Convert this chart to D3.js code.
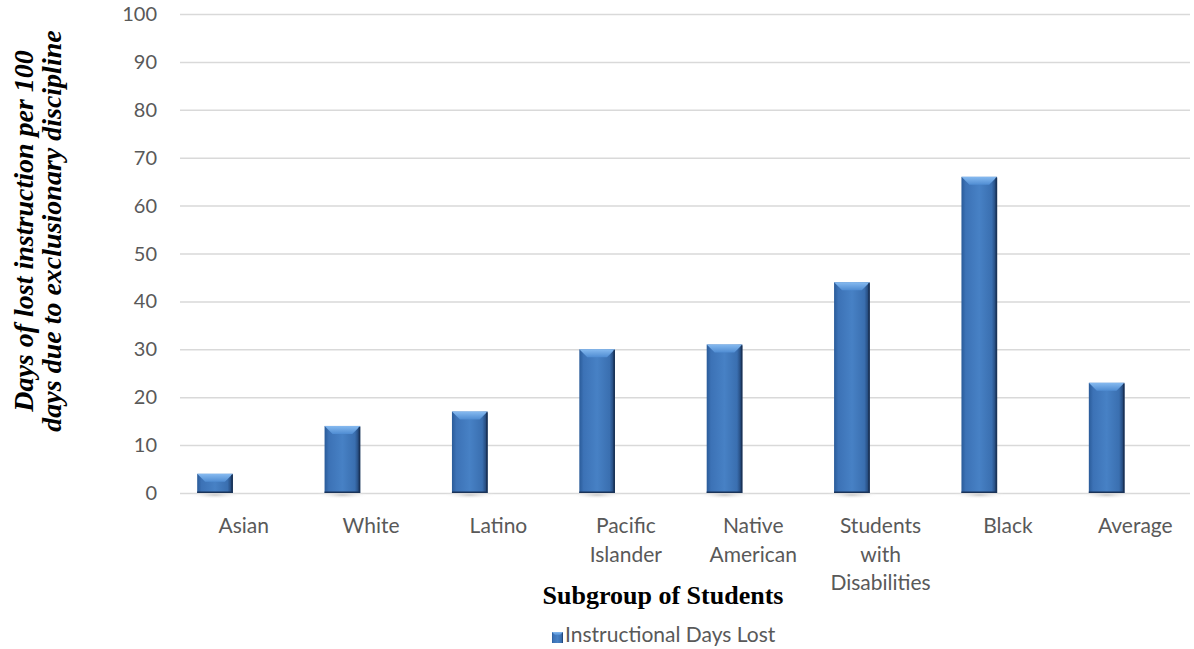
<!DOCTYPE html>
<html>
<head>
<meta charset="utf-8">
<script src="https://cdn.jsdelivr.net/npm/d3@7"></script>
<style>
  body { margin: 0; background: #fff; }
  .tick-label { font-family: Lato, "Open Sans", sans-serif; font-size: 20px; fill: #595959; }
  .cat-label { font-family: Lato, "Open Sans", sans-serif; font-size: 21px; fill: #595959; }
  .axis-title { font-family: "Liberation Serif", "DejaVu Serif", serif; font-weight: bold; fill: #000; }
  .legend-text { font-family: Lato, "Open Sans", sans-serif; font-size: 21px; fill: #595959; }
</style>
</head>
<body>
<svg id="chart" width="1194" height="649"></svg>
<script>
// Data
var categories = [["Asian"], ["White"], ["Latino"], ["Pacific", "Islander"], ["Native", "American"],
                  ["Students", "with", "Disabilities"], ["Black"], ["Average"]];
var values = [4, 14, 17, 30, 31, 44, 66, 23];
var yTicks = [0, 10, 20, 30, 40, 50, 60, 70, 80, 90, 100];
var seriesName = "Instructional Days Lost";

// Dimensions
var plotLeft = 180, plotRight = 1199, plotTop = 14, plotBottom = 493;

var svg = d3.select("#chart");

// Gradients
var defs = svg.append("defs");
var bodyGrad = defs.append("linearGradient").attr("id", "bodyGrad")
    .attr("x1", 0).attr("x2", 1).attr("y1", 0).attr("y2", 0);
bodyGrad.append("stop").attr("offset", "0%").attr("stop-color", "#2a5b99");
bodyGrad.append("stop").attr("offset", "12%").attr("stop-color", "#3c72b6");
bodyGrad.append("stop").attr("offset", "50%").attr("stop-color", "#4781c5");
bodyGrad.append("stop").attr("offset", "85%").attr("stop-color", "#3a6fb0");
bodyGrad.append("stop").attr("offset", "100%").attr("stop-color", "#1c3a66");

var topGrad = defs.append("linearGradient").attr("id", "topGrad")
    .attr("x1", 0).attr("x2", 0).attr("y1", 0).attr("y2", 1);
topGrad.append("stop").attr("offset", "0%").attr("stop-color", "#86baf0");
topGrad.append("stop").attr("offset", "100%").attr("stop-color", "#4f8cd2");

var shadowGrad = defs.append("radialGradient").attr("id", "shadowGrad");
shadowGrad.append("stop").attr("offset", "0%").attr("stop-color", "#bfbfbf").attr("stop-opacity", 0.8);
shadowGrad.append("stop").attr("offset", "100%").attr("stop-color", "#ffffff").attr("stop-opacity", 0);

// Scales
var xScale = d3.scaleBand()
    .domain(d3.range(categories.length))
    .range([plotLeft, plotRight])
    .padding(0);

var yScale = d3.scaleLinear()
    .domain([0, 100])
    .range([plotBottom, plotTop]);

// Grid
var grid = svg.append("g")
    .attr("transform", "translate(" + plotLeft + ",0)")
    .call(d3.axisLeft(yScale).tickValues(yTicks).tickSize(-(1190 - plotLeft)).tickFormat(""));
grid.select(".domain").remove();
grid.selectAll(".tick line").attr("stroke", "#d9d9d9").attr("stroke-width", 1.5);

// Y tick labels
svg.append("g").selectAll("text")
    .data(yTicks)
    .enter().append("text")
    .attr("class", "tick-label")
    .attr("x", 157)
    .attr("y", function(d) { return yScale(d); })
    .attr("dy", "0.35em")
    .attr("text-anchor", "end")
    .text(function(d) { return d; });

// Bars
var bw = xScale.bandwidth() * 0.28;
var bOff = xScale.bandwidth() * 0.135;
var bev = 8;

var bars = svg.append("g").selectAll("g")
    .data(values)
    .enter().append("g")
    .attr("transform", function(d, i) { return "translate(" + (xScale(i) + bOff) + ",0)"; });

// shadow under bar
bars.append("ellipse")
    .attr("cx", bw / 2)
    .attr("cy", plotBottom + 2)
    .attr("rx", bw * 0.75)
    .attr("ry", 4)
    .attr("fill", "url(#shadowGrad)");

bars.append("rect")
    .attr("x", 0)
    .attr("y", function(d) { return yScale(d); })
    .attr("width", bw)
    .attr("height", function(d) { return plotBottom - yScale(d); })
    .attr("fill", "url(#bodyGrad)");

// bevel top
bars.append("path")
    .attr("d", function(d) {
        var y = yScale(d);
        var b = Math.min(bev, (plotBottom - y) / 2);
        return "M0," + y + "L" + bw + "," + y + "L" + (bw - b) + "," + (y + b) +
               "L" + b + "," + (y + b) + "Z";
    })
    .attr("fill", "url(#topGrad)");

// dark right edge and bottom
bars.append("path")
    .attr("d", function(d) {
        var y = yScale(d);
        return "M" + (bw - 0.75) + "," + (y + 1) + "L" + (bw - 0.75) + "," + (plotBottom - 0.75) +
               "L0," + (plotBottom - 0.75);
    })
    .attr("fill", "none")
    .attr("stroke", "#1a3358")
    .attr("stroke-width", 1.5);

// Category labels
var catG = svg.append("g").selectAll("text")
    .data(categories)
    .enter().append("text")
    .attr("class", "cat-label")
    .attr("text-anchor", "middle")
    .attr("x", function(d, i) { return xScale(i) + xScale.bandwidth() / 2; })
    .attr("y", 533);
catG.selectAll("tspan")
    .data(function(d) { return d; })
    .enter().append("tspan")
    .attr("x", function() { return d3.select(this.parentNode).attr("x"); })
    .attr("dy", function(d, j) { return j === 0 ? 0 : 28.5; })
    .text(function(d) { return d; });

// Axis titles
svg.append("text")
    .attr("class", "axis-title")
    .attr("font-size", 26)
    .attr("x", 663)
    .attr("y", 604)
    .attr("text-anchor", "middle")
    .text("Subgroup of Students");

var yTitle = svg.append("text")
    .attr("class", "axis-title")
    .attr("font-size", 28)
    .attr("font-style", "italic")
    .attr("transform", "translate(0,231) rotate(-90)")
    .attr("text-anchor", "middle");
yTitle.append("tspan").attr("x", 0).attr("y", 33).text("Days of lost instruction per 100");
yTitle.append("tspan").attr("x", 0).attr("y", 61).text("days due to exclusionary discipline");

// Legend
var legend = svg.append("g").attr("transform", "translate(552,632)");
legend.append("rect").attr("width", 11).attr("height", 11).attr("fill", "url(#bodyGrad)");
legend.append("path").attr("d", "M0,0L11,0L8,3L3,3Z").attr("fill", "url(#topGrad)");
legend.append("text")
    .attr("class", "legend-text")
    .attr("x", 13)
    .attr("y", 10)
    .text(seriesName);
</script>
</body>
</html>
